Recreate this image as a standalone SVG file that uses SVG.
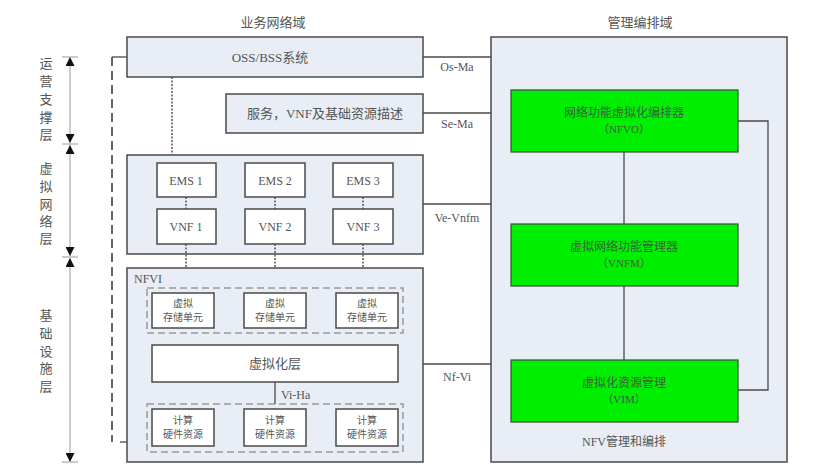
<svg xmlns="http://www.w3.org/2000/svg" width="822" height="469" viewBox="0 0 822 469">
<defs>
<style>
.t{font-family:"Liberation Serif","Noto Sans CJK SC",serif;fill:#555;}
.g{font-family:"Liberation Serif","Noto Sans CJK SC",serif;fill:#3d5f3d;}
.blue{fill:#e8edf6;stroke:#4a4a4a;stroke-width:1.5;}
.wb{fill:#fff;stroke:#4a4a4a;stroke-width:1.5;}
.green{fill:#00ee00;stroke:#3a5a3a;stroke-width:1.3;}
.ln{stroke:#4a4a4a;stroke-width:1.3;fill:none;}
.dot{stroke:#555;stroke-width:1.5;stroke-dasharray:2 1.5;fill:none;}
.dash{stroke:#999;stroke-width:1.5;stroke-dasharray:7 4;fill:none;}
.ldash{stroke:#333;stroke-width:1.5;stroke-dasharray:9 5;fill:none;}
.ax{stroke:#aaa;stroke-width:1.2;fill:none;}
</style>
<marker id="ah" viewBox="0 0 10 10" refX="10" refY="5" markerWidth="9" markerHeight="9" orient="auto-start-reverse" markerUnits="userSpaceOnUse">
<path d="M0,0 L10,5 L0,10 z" fill="#111"/>
</marker>
</defs>
<rect width="822" height="469" fill="#fff"/>

<text class="t" x="273" y="27" font-size="13" text-anchor="middle">业务网络域</text>
<text class="t" x="640" y="27" font-size="13" text-anchor="middle">管理编排域</text>

<g id="layer-axis">
<line class="ax" x1="70" y1="57" x2="70" y2="143" marker-start="url(#ah)" marker-end="url(#ah)"/>
<line class="ax" x1="70" y1="145" x2="70" y2="256" marker-start="url(#ah)" marker-end="url(#ah)"/>
<line class="ax" x1="70" y1="258" x2="70" y2="462" marker-start="url(#ah)" marker-end="url(#ah)"/>
<line class="ax" x1="62" y1="57" x2="78" y2="57"/>
<line class="ax" x1="62" y1="144" x2="78" y2="144"/>
<line class="ax" x1="62" y1="257" x2="78" y2="257"/>
<line class="ax" x1="62" y1="462" x2="78" y2="462"/>
<g class="t" font-size="13" text-anchor="middle">
<text x="46" y="68">运</text><text x="46" y="86">营</text><text x="46" y="104">支</text><text x="46" y="122">撑</text><text x="46" y="139">层</text>
<text x="46" y="173">虚</text><text x="46" y="191">拟</text><text x="46" y="209">网</text><text x="46" y="226">络</text><text x="46" y="243">层</text>
<text x="46" y="320">基</text><text x="46" y="338">础</text><text x="46" y="356">设</text><text x="46" y="373">施</text><text x="46" y="391">层</text>
</g>
</g>

<g id="oss-bss"><rect class="blue" x="127" y="37" width="296" height="40"/>
<text class="t" x="270" y="62" font-size="13" text-anchor="middle">OSS/BSS系统</text></g>

<g id="service-desc"><rect class="blue" x="226" y="94" width="197" height="39"/>
<text class="t" x="325" y="118" font-size="13" text-anchor="middle">服务，VNF及基础资源描述</text></g>

<g id="virtual-network"><rect class="blue" x="127" y="155" width="296" height="99"/></g>

<g id="nfvi"><rect class="blue" x="127" y="268" width="296" height="194"/>
<text class="t" x="134" y="283" font-size="12">NFVI</text>
<rect class="dash" x="147" y="288" width="256" height="45"/>
<rect class="dash" x="147" y="404" width="256" height="48"/></g>

<g id="mano"><rect class="blue" x="491" y="37" width="296" height="425"/>
<text class="t" x="624" y="446" font-size="12" text-anchor="middle">NFV管理和编排</text></g>

<g id="connectors">
<path class="ldash" d="M112,57 V442"/>
<line class="ln" x1="112" y1="57" x2="127" y2="57"/>
<line class="ln" x1="120" y1="442" x2="127" y2="442"/>
<line class="dot" x1="172" y1="77" x2="172" y2="155"/>
<line class="dot" x1="186" y1="197" x2="186" y2="209"/>
<line class="dot" x1="275" y1="197" x2="275" y2="209"/>
<line class="dot" x1="363" y1="197" x2="363" y2="209"/>
<line class="dot" x1="186" y1="244" x2="186" y2="268"/>
<line class="dot" x1="275" y1="244" x2="275" y2="268"/>
<line class="dot" x1="363" y1="244" x2="363" y2="268"/>
<line class="ln" x1="423" y1="57" x2="491" y2="57"/>
<line class="ln" x1="423" y1="113" x2="491" y2="113"/>
<line class="ln" x1="423" y1="204" x2="491" y2="204"/>
<line class="ln" x1="423" y1="364" x2="491" y2="364"/>
<text class="t" x="457" y="71" font-size="12" text-anchor="middle">Os-Ma</text>
<text class="t" x="457" y="128" font-size="12" text-anchor="middle">Se-Ma</text>
<text class="t" x="457" y="222" font-size="12" text-anchor="middle">Ve-Vnfm</text>
<text class="t" x="457" y="381" font-size="12" text-anchor="middle">Nf-Vi</text>
<line class="ln" x1="275" y1="382" x2="275" y2="404"/>
<text class="t" x="281" y="399" font-size="12">Vi-Ha</text>
<line class="ln" x1="624" y1="152" x2="624" y2="224"/>
<line class="ln" x1="624" y1="286" x2="624" y2="360"/>
<path class="ln" d="M738,121 H768 V390 H738"/>
</g>

<g id="ems1"><rect class="wb" x="157" y="163" width="59" height="34"/><text class="t" x="186" y="185" font-size="12" text-anchor="middle">EMS 1</text></g>
<g id="ems2"><rect class="wb" x="245" y="163" width="60" height="34"/><text class="t" x="275" y="185" font-size="12" text-anchor="middle">EMS 2</text></g>
<g id="ems3"><rect class="wb" x="333" y="163" width="60" height="34"/><text class="t" x="363" y="185" font-size="12" text-anchor="middle">EMS 3</text></g>
<g id="vnf1"><rect class="wb" x="157" y="209" width="59" height="35"/><text class="t" x="186" y="231" font-size="12" text-anchor="middle">VNF 1</text></g>
<g id="vnf2"><rect class="wb" x="245" y="209" width="60" height="35"/><text class="t" x="275" y="231" font-size="12" text-anchor="middle">VNF 2</text></g>
<g id="vnf3"><rect class="wb" x="333" y="209" width="60" height="35"/><text class="t" x="363" y="231" font-size="12" text-anchor="middle">VNF 3</text></g>

<g id="storage1"><rect class="wb" x="152" y="293" width="62" height="35"/><text class="t" x="183" y="307" font-size="10" text-anchor="middle">虚拟</text><text class="t" x="183" y="321" font-size="10" text-anchor="middle">存储单元</text></g>
<g id="storage2"><rect class="wb" x="244" y="293" width="62" height="35"/><text class="t" x="275" y="307" font-size="10" text-anchor="middle">虚拟</text><text class="t" x="275" y="321" font-size="10" text-anchor="middle">存储单元</text></g>
<g id="storage3"><rect class="wb" x="336" y="293" width="62" height="35"/><text class="t" x="367" y="307" font-size="10" text-anchor="middle">虚拟</text><text class="t" x="367" y="321" font-size="10" text-anchor="middle">存储单元</text></g>

<g id="virtualization-layer"><rect class="wb" x="152" y="345" width="246" height="37"/><text class="t" x="275" y="368" font-size="13" text-anchor="middle">虚拟化层</text></g>

<g id="compute1"><rect class="wb" x="152" y="409" width="62" height="37"/><text class="t" x="183" y="424" font-size="10" text-anchor="middle">计算</text><text class="t" x="183" y="438" font-size="10" text-anchor="middle">硬件资源</text></g>
<g id="compute2"><rect class="wb" x="244" y="409" width="62" height="37"/><text class="t" x="275" y="424" font-size="10" text-anchor="middle">计算</text><text class="t" x="275" y="438" font-size="10" text-anchor="middle">硬件资源</text></g>
<g id="compute3"><rect class="wb" x="336" y="409" width="62" height="37"/><text class="t" x="367" y="424" font-size="10" text-anchor="middle">计算</text><text class="t" x="367" y="438" font-size="10" text-anchor="middle">硬件资源</text></g>

<g id="nfvo"><rect class="green" x="511" y="90" width="227" height="62"/>
<text class="g" x="624" y="117" font-size="12" text-anchor="middle">网络功能虚拟化编排器</text>
<text class="g" x="624" y="133" font-size="11" text-anchor="middle">（NFVO）</text></g>
<g id="vnfm"><rect class="green" x="511" y="224" width="227" height="62"/>
<text class="g" x="624" y="251" font-size="12" text-anchor="middle">虚拟网络功能管理器</text>
<text class="g" x="624" y="267" font-size="11" text-anchor="middle">（VNFM）</text></g>
<g id="vim"><rect class="green" x="511" y="360" width="227" height="62"/>
<text class="g" x="624" y="387" font-size="12" text-anchor="middle">虚拟化资源管理</text>
<text class="g" x="624" y="403" font-size="11" text-anchor="middle">（VIM）</text></g>
</svg>
